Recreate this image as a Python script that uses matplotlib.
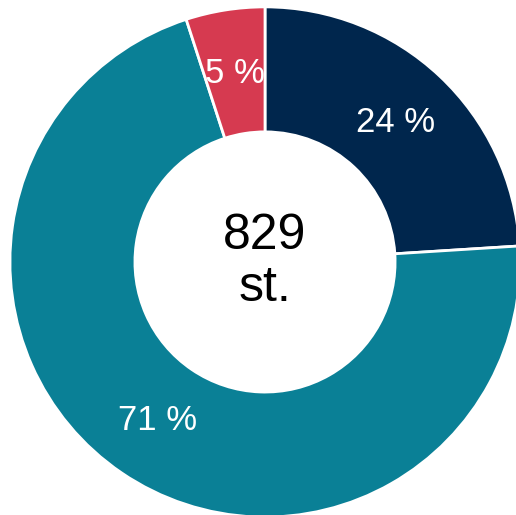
import matplotlib.pyplot as plt
import numpy as np

labels = ["24 %", "71 %", "5 %"]
shares = [24, 71, 5]
colors = ["#00264d", "#0a8096", "#d63a50"]
center_text = "829\nst."

plt.rcParams["font.family"] = ["Liberation Sans", "DejaVu Sans"]

fig = plt.figure(figsize=(5.16, 5.15), dpi=100)
ax = fig.add_axes([0, 0, 1, 1])

wedges, _ = ax.pie(
    shares,
    colors=colors,
    startangle=90,
    counterclock=False,
    radius=1.0,
    wedgeprops=dict(width=0.49, edgecolor="white", linewidth=2),
)

# labels at the middle of each ring segment
for w, lab in zip(wedges, labels):
    ang = np.deg2rad((w.theta1 + w.theta2) / 2)
    r = 0.75
    ax.text(r * np.cos(ang), r * np.sin(ang), lab, color="white",
            fontsize=25, ha="center", va="center")

ax.text(0, 0, center_text, ha="center", va="center", fontsize=36,
        linespacing=1.15, color="black")

ax.set_xlim(-1.039, 0.984)
ax.set_ylim(-0.992, 1.027)
ax.set_aspect("auto")
ax.axis("off")

plt.savefig("out.png", dpi=100)
